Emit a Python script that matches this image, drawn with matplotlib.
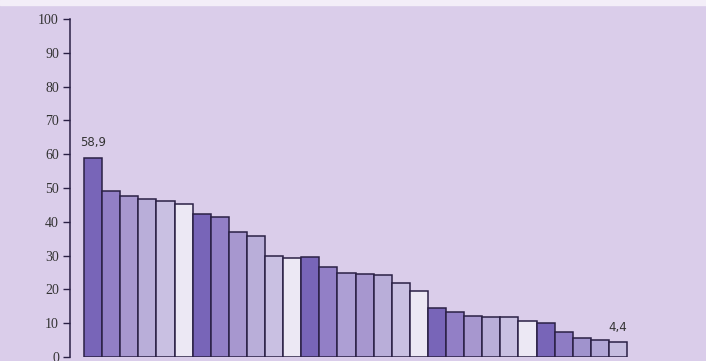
import matplotlib
matplotlib.use("Agg")
import matplotlib.pyplot as plt
import numpy as np

values = [58.9, 49.1, 47.6, 46.6, 46.2, 45.3,
          42.4, 41.4, 37.1, 35.7, 29.9, 29.4,
          29.5, 26.5, 25.0, 24.7, 24.2, 21.8, 19.5,
          14.6, 13.2, 12.2, 11.7, 11.7, 10.7,
          10.2, 7.5, 5.5, 5.0, 4.4]
labels_shown = {0: "58,9", 29: "4,4"}
yticks = [0, 10, 20, 30, 40, 50, 60, 70, 80, 90, 100]

shade = ["#7865b8", "#927fc6", "#a797cf", "#b9aed9", "#c9c0e2", "#ece8f4"]
colors = (shade[:6] + shade[:6] +
          ["#7865b8", "#927fc6", "#ad9fd4", "#a797cf", "#b9aed9", "#c9c0e2", "#ece8f4"] +
          shade[:6] +
          ["#7865b8", "#8e7cc4", "#a093cd", "#b2a7d7", "#c6bde0"])

bg = "#dacdea"
fig = plt.figure(figsize=(7.06, 3.61), dpi=100, facecolor=bg)
ax = fig.add_axes([70/706, 4/361, 636/706, 338/361])
ax.set_facecolor(bg)

x = np.arange(len(values))
ax.bar(x, values, width=1.0, color=colors, edgecolor="#2a2045", linewidth=1.1, zorder=2)

for i, t in labels_shown.items():
    ax.text(x[i], values[i] + 2.5, t, ha="center", va="bottom",
            fontsize=8.5, color="#333333", family="DejaVu Sans")

ax.set_xlim(-1.273, 33.86)
ax.set_ylim(0, 100)
ax.set_yticks(yticks)
ax.set_yticklabels([str(v) for v in yticks], family="Liberation Serif",
                   fontsize=10, color="#333333")
ax.set_xticks([])
ax.tick_params(axis="y", direction="out", length=5, width=1, color="#2a2045", pad=3)
for s in ["top", "right", "bottom"]:
    ax.spines[s].set_visible(False)
ax.spines["left"].set_color("#2a2045")
ax.spines["left"].set_linewidth(1.1)

fig.patches.append(plt.Rectangle((0, 1 - 5/361), 1, 5/361, transform=fig.transFigure,
                                 color="#f3eef8", zorder=0))

fig.savefig("out.png", dpi=100, facecolor=bg)
